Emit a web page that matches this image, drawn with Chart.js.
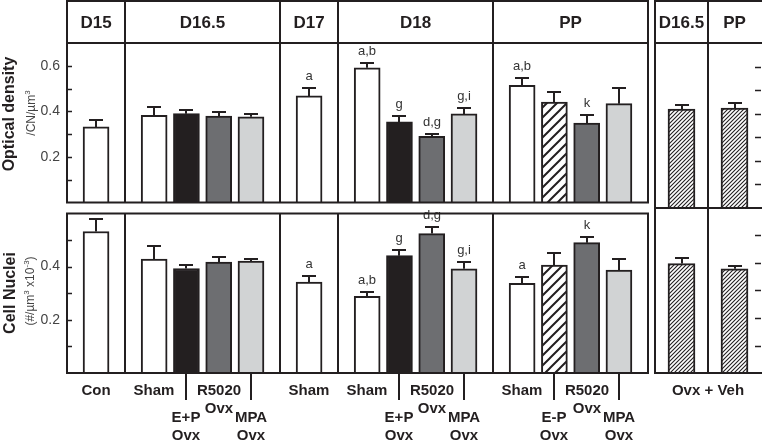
<!DOCTYPE html>
<html>
<head>
<meta charset="utf-8">
<script src="https://cdn.jsdelivr.net/npm/chart.js@4.4.1/dist/chart.umd.min.js"></script>
<style>
  html, body { margin: 0; padding: 0; background: #fff; }
  body { width: 762px; height: 441px; position: relative; overflow: hidden; font-family: "Liberation Sans", Arial, sans-serif; }
  canvas { position: absolute; }
  .ytitle { position: absolute; transform: translate(-50%, -50%) rotate(-90deg); white-space: nowrap; color: #231f20; }
  .big { font-weight: bold; font-size: 16px; }
  .small { font-size: 12px; color: #444; }
  .small sup { font-size: 8px; }
</style>
</head>
<body>
<canvas id="odMain" width="652" height="218" style="left:0;top:0"></canvas>
<canvas id="cnMain" width="652" height="243" style="left:0;top:198px"></canvas>
<canvas id="odVeh" width="117" height="218" style="left:645px;top:0"></canvas>
<canvas id="cnVeh" width="117" height="243" style="left:645px;top:198px"></canvas>

<div class="ytitle big" style="left:9px;top:114px">Optical density</div>
<div class="ytitle small" style="left:30px;top:113px">/CN/µm<sup>3</sup></div>
<div class="ytitle big" style="left:10px;top:293px">Cell Nuclei</div>
<div class="ytitle small" style="left:29px;top:291px">(#/µm<sup>3</sup> x10<sup>-3</sup>)</div>

<script>
// ---- data ----
const groupNames = ['D15', 'D16.5', 'D17', 'D18', 'PP'];
const barGroup = [0, 1, 1, 1, 1, 2, 3, 3, 3, 3, 4, 4, 4, 4];
const barNames = ['Con', 'Sham', 'E+P Ovx', 'R5020 Ovx', 'MPA Ovx', 'Sham',
                  'Sham', 'E+P Ovx', 'R5020 Ovx', 'MPA Ovx',
                  'Sham', 'E-P Ovx', 'R5020 Ovx', 'MPA Ovx'];
const barKind = ['white', 'white', 'black', 'dark', 'light', 'white',
                 'white', 'black', 'dark', 'light',
                 'white', 'hatch', 'dark', 'light'];

// optical density (/CN/µm3)
const odMean = [0.332, 0.383, 0.390, 0.380, 0.376, 0.468, 0.591, 0.354, 0.291, 0.389, 0.514, 0.441, 0.349, 0.434];
const odSem  = [0.031, 0.035, 0.016, 0.019, 0.011, 0.035, 0.020, 0.025, 0.011, 0.027, 0.034, 0.044, 0.035, 0.067];
const odSig  = ['', '', '', '', '', 'a', 'a,b', 'g', 'd,g', 'g,i', 'a,b', '', 'k', ''];

// cell nuclei (#/µm3 x10-3)
const cnMean = [0.532, 0.428, 0.393, 0.417, 0.421, 0.342, 0.288, 0.441, 0.524, 0.392, 0.337, 0.406, 0.490, 0.387];
const cnSem  = [0.046, 0.048, 0.013, 0.020, 0.008, 0.023, 0.015, 0.022, 0.023, 0.025, 0.023, 0.046, 0.022, 0.042];
const cnSig  = ['', '', '', '', '', 'a', 'a,b', 'g', 'd,g', 'g,i', 'a', '', 'k', ''];

// Ovx + vehicle panel
const vehGroups = ['D16.5', 'PP'];
const vehOdMean = [0.420, 0.424];
const vehOdSem  = [0.017, 0.023];
const vehCnMean = [0.398, 0.379];
const vehCnSem  = [0.019, 0.011];
const vehLabel = 'Ovx + Veh';

const odMax = 0.7;
const cnMax = 0.6;

// ---- styling ----
const INK = '#231f20';
const FONT = '"Liberation Sans", Arial, sans-serif';
const PAD = 4; // empty category slots between bars

function hatch(size, width) {
  const c = document.createElement('canvas');
  c.width = c.height = size;
  const g = c.getContext('2d');
  g.fillStyle = '#fff';
  g.fillRect(0, 0, size, size);
  g.strokeStyle = INK;
  g.lineWidth = width;
  g.beginPath();
  g.moveTo(-size, size); g.lineTo(size, -size);
  g.moveTo(0, 2 * size); g.lineTo(2 * size, 0);
  g.moveTo(0, size); g.lineTo(size, 0);
  g.stroke();
  return g.createPattern(c, 'repeat');
}

const fills = {
  white: '#ffffff',
  black: '#231f20',
  dark: '#6d6e71',
  light: '#d1d3d4',
  hatch: hatch(10, 2),
  fine: hatch(4, 1.1)
};

// lay the bars out on a category axis, with empty slots as spacers
function buildSlots(groupOf) {
  const labels = [], barSlot = [], edges = [0];
  groupOf.forEach((g, i) => {
    if (i > 0 && groupOf[i - 1] !== g) {
      for (let k = 0; k < PAD; k++) labels.push('');
      edges.push(labels.length);
    }
    for (let k = 0; k < PAD; k++) labels.push('');
    barSlot.push(labels.length);
    labels.push(barNames[i]);
  });
  for (let k = 0; k < PAD; k++) labels.push('');
  edges.push(labels.length);
  return { labels, barSlot, edges };
}

function drawPanel(chart, o) {
  const { ctx, chartArea: a } = chart;
  const x = chart.scales.x, y = chart.scales.y;
  const step = x.getPixelForValue(1) - x.getPixelForValue(0);
  const edgeX = e => Math.round(x.getPixelForValue(0) - step / 2 + e * step);
  ctx.save();
  ctx.strokeStyle = INK;
  ctx.fillStyle = INK;

  // error bars + significance letters
  ctx.lineWidth = 2;
  ctx.textAlign = 'center';
  ctx.textBaseline = 'alphabetic';
  o.mean.forEach((m, i) => {
    const cx = Math.round(x.getPixelForValue(o.barSlot[i]));
    const y0 = y.getPixelForValue(m);
    const y1 = Math.round(y.getPixelForValue(m + o.sem[i]));
    ctx.beginPath();
    ctx.moveTo(cx, y0); ctx.lineTo(cx, y1);
    ctx.moveTo(cx - 7, y1); ctx.lineTo(cx + 7, y1);
    ctx.stroke();
    if (o.sig && o.sig[i]) {
      ctx.fillStyle = '#333';
      ctx.font = '13px ' + FONT;
      ctx.fillText(o.sig[i], cx, y1 - 8);
      ctx.fillStyle = INK;
    }
  });

  // inward tick marks every 0.1
  ctx.lineWidth = 1.5;
  ctx.beginPath();
  for (let k = 1; k * 0.1 < o.yMax - 0.05; k++) {
    const py = Math.round(y.getPixelForValue(k * 0.1)) + 0.5;
    if (o.tickSide === 'left') { ctx.moveTo(a.left, py); ctx.lineTo(a.left + 5, py); }
    else { ctx.moveTo(a.right - 6, py); ctx.lineTo(a.right, py); }
  }
  ctx.stroke();

  // frame, group separators, header
  const top = o.header ? 1 : a.top;
  ctx.lineWidth = 2;
  ctx.beginPath();
  ctx.moveTo(a.left, top); ctx.lineTo(a.left, a.bottom + 1);
  ctx.moveTo(a.left - 1, a.bottom); ctx.lineTo(a.right + 1, a.bottom);
  ctx.moveTo(a.left - 1, a.top); ctx.lineTo(a.right + 1, a.top);
  if (o.header) { ctx.moveTo(a.left - 1, top); ctx.lineTo(a.right + 1, top); }
  if (o.rightBorder) { ctx.moveTo(a.right, top); ctx.lineTo(a.right, a.bottom + 1); }
  o.edges.slice(1, -1).forEach(e => {
    ctx.moveTo(edgeX(e), top); ctx.lineTo(edgeX(e), a.bottom);
  });
  ctx.stroke();

  if (o.header) {
    ctx.font = 'bold 17px ' + FONT;
    o.header.forEach((name, g) => {
      const l = g === 0 ? a.left : edgeX(o.edges[g]);
      const r = g === o.header.length - 1 ? a.right : edgeX(o.edges[g + 1]);
      ctx.fillText(name, (l + r) / 2, 28);
    });
  }

  // category labels under the axis
  if (o.footer) {
    ctx.font = 'bold 15px ' + FONT;
    if (o.footer === 'bars') {
      barNames.forEach((name, i) => {
        const cx = Math.round(x.getPixelForValue(o.barSlot[i]));
        const first = barGroup.indexOf(barGroup[i]);
        const words = name.split(' ');
        if ((i - first) % 2 === 1) {
          ctx.beginPath();
          ctx.moveTo(cx, a.bottom + 1); ctx.lineTo(cx, a.bottom + 27);
          ctx.stroke();
          ctx.fillText(words[0], cx, a.bottom + 49);
          if (words[1]) ctx.fillText(words[1], cx, a.bottom + 67);
        } else {
          ctx.fillText(words[0], cx, a.bottom + 22);
          if (words[1]) ctx.fillText(words[1], cx, a.bottom + 40);
        }
      });
    } else {
      ctx.fillText(o.footer, (a.left + a.right) / 2, a.bottom + 22);
    }
  }
  ctx.restore();
}

function makeChart(id, o) {
  const data = o.labels.map(() => null);
  const kinds = o.labels.map(() => null);
  o.barSlot.forEach((s, i) => { data[s] = o.mean[i]; kinds[s] = o.kind[i]; });
  const yScale = {
    min: 0, max: o.yMax,
    display: o.tickSide === 'left',
    grid: { display: false, drawTicks: false },
    border: { display: false },
    ticks: {
      stepSize: 0.1,
      padding: 7,
      color: '#444',
      font: { family: FONT, size: 14 },
      callback: v => {
        const k = Math.round(v * 10);
        return (k > 0 && k % 2 === 0 && v < o.yMax - 0.05) ? (k / 10).toFixed(1) : '';
      }
    },
    afterFit: s => { s.width = o.axisWidth; }
  };
  return new Chart(document.getElementById(id), {
    type: 'bar',
    data: {
      labels: o.labels,
      datasets: [{
        data,
        backgroundColor: c => fills[kinds[c.dataIndex]] || '#fff',
        borderColor: INK,
        borderWidth: 2,
        barThickness: o.barThickness
      }]
    },
    options: {
      responsive: false,
      animation: false,
      events: [],
      layout: { padding: o.padding },
      plugins: { legend: { display: false }, tooltip: { enabled: false } },
      scales: {
        x: { type: 'category', display: false },
        y: yScale
      }
    },
    plugins: [{ id: 'panel', afterDraw: chart => drawPanel(chart, o) }]
  });
}

const main = buildSlots(barGroup);
const veh = { labels: vehGroups, barSlot: [0, 1], edges: [0, 1, 2] };

makeChart('odMain', {
  ...main, mean: odMean, sem: odSem, sig: odSig, kind: barKind,
  yMax: odMax, tickSide: 'left', axisWidth: 67, barThickness: 26,
  padding: { top: 43, bottom: 10, left: 0, right: 4 },
  header: groupNames, rightBorder: true
});
makeChart('cnMain', {
  ...main, mean: cnMean, sem: cnSem, sig: cnSig, kind: barKind,
  yMax: cnMax, tickSide: 'left', axisWidth: 67, barThickness: 26,
  padding: { top: 10, bottom: 68, left: 0, right: 4 },
  footer: 'bars', rightBorder: true
});
makeChart('odVeh', {
  ...veh, mean: vehOdMean, sem: vehOdSem, kind: ['fine', 'fine'],
  yMax: odMax, tickSide: 'right', axisWidth: 0, barThickness: 27,
  padding: { top: 43, bottom: 10, left: 10, right: 1 },
  header: vehGroups, rightBorder: false
});
makeChart('cnVeh', {
  ...veh, mean: vehCnMean, sem: vehCnSem, kind: ['fine', 'fine'],
  yMax: cnMax, tickSide: 'right', axisWidth: 0, barThickness: 27,
  padding: { top: 10, bottom: 68, left: 10, right: 1 },
  footer: vehLabel, rightBorder: false
});
</script>
</body>
</html>
